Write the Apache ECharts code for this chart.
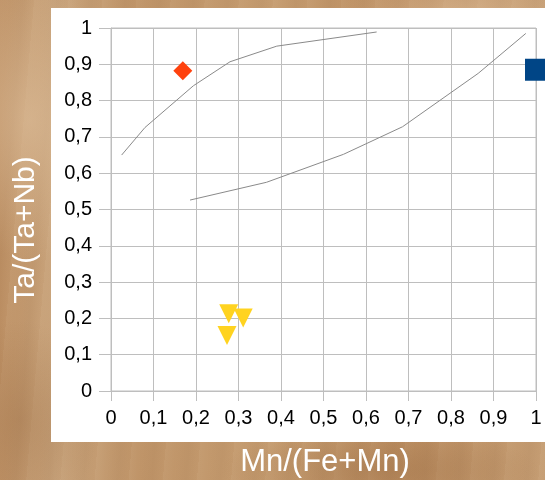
<!DOCTYPE html>
<html>
<head>
<meta charset="utf-8">
<title>Ta/(Ta+Nb) vs Mn/(Fe+Mn)</title>
<script src="https://cdn.jsdelivr.net/npm/echarts@6/dist/echarts.min.js"></script>
<style>
  html, body { margin: 0; padding: 0; }
  body {
    width: 545px; height: 480px; overflow: hidden;
    background-color: #c29a6f;
    background-image:
      radial-gradient(ellipse 90px 140px at 30px 120px, rgba(225,195,160,0.55), rgba(225,195,160,0) 100%),
      radial-gradient(ellipse 120px 60px at 460px 20px, rgba(230,200,165,0.5), rgba(230,200,165,0) 100%),
      radial-gradient(ellipse 160px 40px at 380px 470px, rgba(150,105,65,0.35), rgba(150,105,65,0) 100%),
      radial-gradient(ellipse 80px 100px at 20px 420px, rgba(150,105,65,0.3), rgba(150,105,65,0) 100%),
      repeating-linear-gradient(95deg, rgba(255,240,215,0.05) 0px, rgba(255,240,215,0.0) 11px, rgba(90,50,20,0.04) 23px, rgba(255,240,215,0.0) 34px),
      linear-gradient(90deg, #bd9064 0%, #c9a47c 10%, #bf9468 25%, #c59c70 50%, #bb8d60 75%, #c59d73 100%);
  }
  #chart { width: 545px; height: 480px; }
</style>
</head>
<body>
<div id="chart"></div>
<script>
// Boundary curves (drawn as thin grey polylines)
const upperCurveX = [0.025, 0.080, 0.194, 0.280, 0.390, 0.625];
const upperCurveY = [0.650, 0.726, 0.841, 0.907, 0.950, 0.989];
const lowerCurveX = [0.186, 0.366, 0.547, 0.686, 0.864, 0.976];
const lowerCurveY = [0.526, 0.575, 0.652, 0.728, 0.875, 0.985];

// Sample points
const diamondX = [0.169];
const diamondY = [0.882];
const squareX = [1.0];
const squareY = [0.885];
const triangleX = [0.311, 0.277, 0.273];
const triangleY = [0.201, 0.213, 0.153];

// Axis ticks
const xTicks = [0, 0.1, 0.2, 0.3, 0.4, 0.5, 0.6, 0.7, 0.8, 0.9, 1];
const yTicks = [0, 0.1, 0.2, 0.3, 0.4, 0.5, 0.6, 0.7, 0.8, 0.9, 1];

const xTitle = 'Mn/(Fe+Mn)';
const yTitle = 'Ta/(Ta+Nb)';

const zip = (xs, ys) => xs.map((x, i) => [x, ys[i]]);
const fmt = v => {
  const r = Math.round(v * 10) / 10;
  return (r === 0 || r === 1) ? String(r) : r.toFixed(1).replace('.', ',');
};

const FONT = '"Liberation Sans", Arial, sans-serif';
const gridColor = '#bebebe';

const chart = echarts.init(document.getElementById('chart'), null, { renderer: 'canvas' });

const axisCommon = {
  type: 'value',
  min: xTicks[0],
  max: xTicks[xTicks.length - 1],
  interval: 0.1,
  axisLine: { show: true, lineStyle: { color: gridColor, width: 1 } },
  splitLine: { show: true, lineStyle: { color: gridColor, width: 1 } },
  axisLabel: {
    color: '#000',
    fontFamily: FONT,
    fontSize: 20,
    formatter: v => fmt(v)
  }
};

chart.setOption({
  animation: false,
  backgroundColor: 'transparent',
  grid: { left: 111, right: 9, top: 28, bottom: 89, containLabel: false, show: true, borderColor: gridColor, borderWidth: 1 },
  graphic: [
    { type: 'rect', z: -10, silent: true,
      shape: { x: 51, y: 8, width: 500, height: 434 },
      style: { fill: '#ffffff' } },
    { type: 'text', silent: true, x: 325, y: 462,
      style: { text: xTitle, fill: '#ffffff', font: '31px ' + FONT, textAlign: 'center', textVerticalAlign: 'middle' } },
    { type: 'text', silent: true, x: 26, y: 230, rotation: Math.PI / 2,
      style: { text: yTitle, fill: '#ffffff', font: '30px ' + FONT, textAlign: 'center', textVerticalAlign: 'middle' } }
  ],
  xAxis: Object.assign({}, axisCommon, {
    axisTick: { show: true, length: 10, lineStyle: { color: gridColor } },
    axisLabel: Object.assign({}, axisCommon.axisLabel, { margin: 17 })
  }),
  yAxis: Object.assign({}, axisCommon, {
    min: yTicks[0],
    max: yTicks[yTicks.length - 1],
    axisTick: { show: true, length: 12, lineStyle: { color: gridColor } },
    axisLabel: Object.assign({}, axisCommon.axisLabel, { margin: 19 })
  }),
  series: [
    { type: 'line', data: zip(upperCurveX, upperCurveY), symbol: 'none',
      lineStyle: { color: '#8a8a8a', width: 1 }, z: 3 },
    { type: 'line', data: zip(lowerCurveX, lowerCurveY), symbol: 'none',
      lineStyle: { color: '#8a8a8a', width: 1 }, z: 3 },
    { type: 'scatter', data: zip(diamondX, diamondY), symbol: 'diamond', symbolSize: 19,
      itemStyle: { color: '#ff420e', opacity: 1 }, z: 4 },
    { type: 'scatter', data: zip(squareX, squareY), symbol: 'rect', symbolSize: 22, clip: false,
      itemStyle: { color: '#004586', opacity: 1 }, z: 4 },
    { type: 'scatter', data: zip(triangleX, triangleY), symbol: 'triangle', symbolRotate: 180, symbolSize: 19,
      itemStyle: { color: '#ffd320', opacity: 1 }, z: 4 }
  ]
});
</script>
</body>
</html>
